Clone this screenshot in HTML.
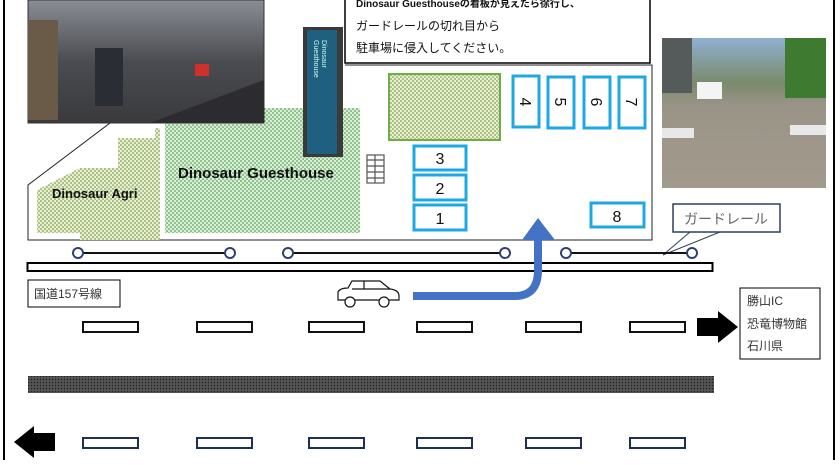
<!DOCTYPE html>
<html><head><meta charset="utf-8"><style>
body{margin:0;background:#fff;}
svg text{font-family:"Liberation Sans","Noto Sans CJK JP",sans-serif;}
</style></head><body>
<svg width="840" height="460" viewBox="0 0 840 460" xmlns="http://www.w3.org/2000/svg">
<defs>
<pattern id="gd" width="4" height="4" patternUnits="userSpaceOnUse"><rect width="4" height="4" fill="#d8f0d0"/><circle cx="1" cy="1" r="0.8" fill="#3d8a4d"/><circle cx="3" cy="3" r="0.8" fill="#3d8a4d"/></pattern>
<pattern id="gl" width="4" height="4" patternUnits="userSpaceOnUse"><rect width="4" height="4" fill="#e6f0cc"/><circle cx="1" cy="1" r="0.8" fill="#6a8a40"/><circle cx="3" cy="3" r="0.8" fill="#6a8a40"/></pattern>
<pattern id="md" width="3" height="3" patternUnits="userSpaceOnUse"><rect width="3" height="3" fill="#555"/><circle cx="1.5" cy="1.5" r="0.8" fill="#222"/></pattern>
<linearGradient id="ph1" x1="0" y1="0" x2="0" y2="1"><stop offset="0" stop-color="#8a8d93"/><stop offset="0.5" stop-color="#4a4c52"/><stop offset="1" stop-color="#3a3a3c"/></linearGradient>
<linearGradient id="ph2" x1="0" y1="0" x2="0" y2="1"><stop offset="0" stop-color="#8fb0d0"/><stop offset="0.3" stop-color="#7a8a6a"/><stop offset="0.45" stop-color="#9a9488"/><stop offset="1" stop-color="#a29a8c"/></linearGradient>
</defs>
<line x1="4" y1="0" x2="4" y2="460" stroke="#000" stroke-width="2"/>
<line x1="834" y1="0" x2="834" y2="460" stroke="#000" stroke-width="2"/>
<polyline points="110,123 28,185 28,240 652,240 652,65 345,65" fill="none" stroke="#222" stroke-width="1"/>
<path d="M37,190 L80,168 L118,168 L118,138 L155,138 L155,128 L160,128 L160,240 L80,240 L80,233 L37,233 Z" fill="url(#gl)"/>
<rect x="165" y="108" width="195" height="125" fill="url(#gd)"/>
<text x="178" y="178" font-size="15" font-weight="bold" fill="#111">Dinosaur Guesthouse</text>
<text x="52" y="198" font-size="13" font-weight="bold" fill="#111">Dinosaur Agri</text>
<rect x="303" y="27" width="40" height="130" fill="#3a3a3a"/>
<rect x="307" y="30" width="30" height="124" fill="#1f5f7f"/>
<text transform="translate(322,40) rotate(90)" font-size="7" fill="#cfe">Dinosaur</text>
<text transform="translate(314,40) rotate(90)" font-size="7" fill="#cfe">Guesthouse</text>
<g stroke="#555" stroke-width="1.2" fill="none"><rect x="367" y="155" width="17" height="28"/><line x1="375" y1="155" x2="375" y2="183"/><line x1="367" y1="160" x2="384" y2="160"/><line x1="367" y1="166" x2="384" y2="166"/><line x1="367" y1="172" x2="384" y2="172"/><line x1="367" y1="178" x2="384" y2="178"/></g>
<rect x="389" y="74" width="111" height="66" fill="url(#gl)" stroke="#70ad47" stroke-width="2"/>
<g fill="#fff" stroke="#1fa8e0" stroke-width="3">
<rect x="414" y="146" width="52" height="24"/><rect x="414" y="175" width="52" height="25"/><rect x="414" y="205" width="52" height="25"/>
<rect x="513" y="76" width="26" height="51"/><rect x="548" y="77" width="26" height="51"/><rect x="584" y="77" width="26" height="51"/><rect x="619" y="77" width="26" height="51"/>
<rect x="591" y="203" width="53" height="24"/></g>
<g font-size="16" fill="#111" text-anchor="middle">
<text x="440" y="164">3</text><text x="440" y="194">2</text><text x="440" y="224">1</text><text x="617" y="222">8</text>
<text transform="translate(520,102) rotate(90)">4</text><text transform="translate(555,102) rotate(90)">5</text><text transform="translate(591,102) rotate(90)">6</text><text transform="translate(626,102) rotate(90)">7</text>
</g>
<rect x="28" y="0" width="236" height="123" fill="url(#ph1)" stroke="#333"/>
<rect x="28" y="20" width="30" height="100" fill="#6a5a48"/>
<rect x="95" y="48" width="28" height="58" fill="#2a2d33"/>
<rect x="195" y="64" width="14" height="12" fill="#d0302a"/>
<polygon points="150,123 264,80 264,123" fill="#2c2c30"/>
<rect x="345" y="-2" width="305" height="65" fill="#fff" stroke="#000" stroke-width="1.5"/>
<text x="356" y="7" font-size="10" font-weight="bold" fill="#111">Dinosaur Guesthouseの看板が見えたら徐行し、</text>
<text x="356" y="30" font-size="12" fill="#111">ガードレールの切れ目から</text>
<text x="356" y="52" font-size="12" fill="#111">駐車場に侵入してください。</text>
<rect x="662" y="38" width="164" height="150" fill="url(#ph2)"/>
<rect x="662" y="38" width="30" height="55" fill="#555a5a"/>
<rect x="785" y="38" width="41" height="60" fill="#3e7a30"/>
<rect x="697" y="82" width="25" height="17" fill="#f4f4f4"/>
<rect x="662" y="128" width="32" height="10" fill="#e8e8e8"/>
<rect x="790" y="125" width="36" height="10" fill="#e8e8e8"/>
<rect x="673" y="204" width="107" height="28" fill="#fff" stroke="#2f3f5f" stroke-width="1.5"/>
<text x="684" y="224" font-size="14" fill="#666">ガードレール</text>
<polyline points="690,232 663,255 720,232" fill="none" stroke="#2f3f5f" stroke-width="1"/>
<g stroke="#111" stroke-width="2"><line x1="78" y1="253" x2="230" y2="253"/><line x1="288" y1="253" x2="505" y2="253"/><line x1="566" y1="253" x2="692" y2="253"/></g>
<g fill="#fff" stroke="#2f3f6f" stroke-width="2"><circle cx="78" cy="253" r="5"/><circle cx="230" cy="253" r="5"/><circle cx="288" cy="253" r="5"/><circle cx="505" cy="253" r="5"/><circle cx="566" cy="253" r="5"/><circle cx="692" cy="253" r="5"/></g>
<rect x="27.5" y="263" width="685" height="8" fill="#fff" stroke="#000" stroke-width="2"/>
<path d="M413,296 L515,296 Q538,296 538,270 L538,238" fill="none" stroke="#4472c4" stroke-width="8"/>
<polygon points="522,240 555,240 538,218" fill="#4472c4"/>
<rect x="28" y="280" width="92" height="27" fill="#fff" stroke="#000"/>
<text x="34" y="298" font-size="12" fill="#333">国道157号線</text>
<g fill="#fff" stroke="#111" stroke-width="1.2"><path d="M338,300 L338,292 Q340,288 348,288 L352,281 L380,281 L390,289 Q399,290 399,296 L399,300 Z"/><line x1="364" y1="281" x2="364" y2="289"/><line x1="352" y1="289" x2="390" y2="289"/><circle cx="350" cy="302" r="5"/><circle cx="384" cy="302" r="5"/></g>
<g fill="#fff" stroke="#111" stroke-width="2">
<rect x="83" y="322" width="55" height="10"/><rect x="197" y="322" width="55" height="10"/><rect x="309" y="322" width="55" height="10"/><rect x="417" y="322" width="55" height="10"/><rect x="526" y="322" width="55" height="10"/><rect x="630" y="322" width="55" height="10"/></g>
<g fill="#fff" stroke="#1f2f4f" stroke-width="2">
<rect x="83" y="438" width="55" height="10"/><rect x="197" y="438" width="55" height="10"/><rect x="309" y="438" width="55" height="10"/><rect x="417" y="438" width="55" height="10"/><rect x="526" y="438" width="55" height="10"/><rect x="630" y="438" width="55" height="10"/></g>
<polygon points="697,318 718,318 718,311 738,327 718,343 718,336 697,336" fill="#000"/>
<polygon points="55,433 34,433 34,426 14,442 34,458 34,451 55,451" fill="#000"/>
<rect x="28" y="376" width="686" height="17" fill="url(#md)"/>
<rect x="740" y="288" width="80" height="71" fill="#fff" stroke="#000"/>
<g font-size="12" fill="#333"><text x="747" y="305">勝山IC</text><text x="747" y="328">恐竜博物館</text><text x="747" y="350">石川県</text></g>
</svg>
</body></html>
